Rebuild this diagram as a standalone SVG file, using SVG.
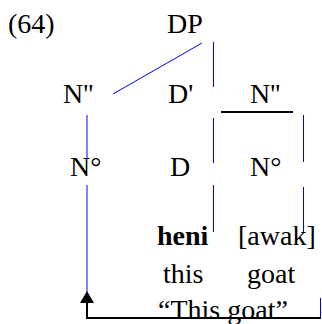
<svg xmlns="http://www.w3.org/2000/svg" width="322" height="324" viewBox="0 0 322 324">
<style>
text{font-family:"Liberation Serif","Times New Roman",serif;font-size:28px;fill:#000}
.b{font-weight:bold}
.bl{stroke:#0000ff;stroke-width:1;fill:none}
.lb{stroke:#5a5aff;stroke-width:1.5;fill:none}
.k{stroke:#000;stroke-width:2;fill:none}
</style>
<rect width="322" height="324" fill="#fff"/>
<g id="label64"><text x="8" y="33">(64)</text></g>
<g id="DP"><text x="167" y="33">DP</text></g>
<g id="N2left"><text x="63" y="103">N''</text></g>
<g id="Dbar"><text x="168" y="103">D'</text></g>
<g id="N2right"><text x="250" y="103">N''</text></g>
<g id="N0left"><text x="70" y="176">N°</text></g>
<g id="D"><text x="170" y="176">D</text></g>
<g id="N0right"><text x="250" y="176">N°</text></g>
<g id="heni"><text class="b" x="157" y="245">heni</text></g>
<g id="awak"><text x="238" y="245">[awak]</text></g>
<g id="this"><text x="163" y="283">this</text></g>
<g id="goat"><text x="247" y="283">goat</text></g>
<g id="gloss"><text x="158" y="319">“This goat”</text></g>
<g id="connectors">
<line class="bl" x1="202" y1="43" x2="113" y2="94"/>
<line class="bl" x1="213.5" y1="42" x2="213.5" y2="87"/>
<line class="k" x1="221" y1="112" x2="293" y2="112"/>
<line class="lb" x1="87" y1="115" x2="87" y2="158"/>
<line class="lb" x1="87" y1="185" x2="87" y2="292"/>
<line class="bl" x1="213.5" y1="118" x2="213.5" y2="163"/>
<line class="bl" x1="213.5" y1="185" x2="213.5" y2="232"/>
<line class="bl" x1="303.5" y1="115" x2="303.5" y2="162"/>
<line class="bl" x1="303.5" y1="187" x2="303.5" y2="232"/>
<polyline class="k" points="87,302 87,318 321,318"/>
<polygon points="87,291 80,303 94,303" fill="#000"/>
<line class="bl" x1="320.5" y1="298" x2="320.5" y2="317"/>
</g>
</svg>
